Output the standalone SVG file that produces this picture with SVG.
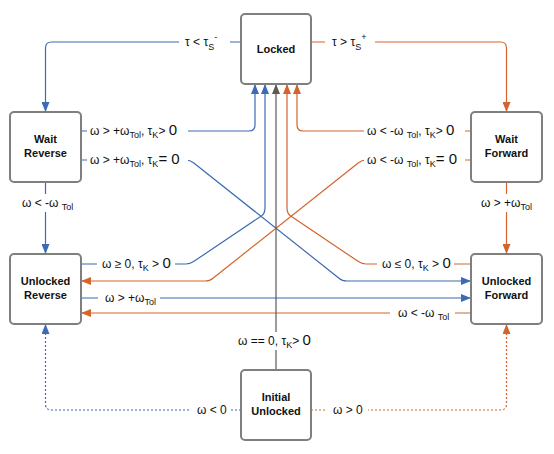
<svg xmlns="http://www.w3.org/2000/svg" width="554" height="454" viewBox="0 0 554 454">
<defs>
<style>
.node rect{fill:#fff;stroke:#7f7f7f;stroke-width:2}
.node text{font-family:"Liberation Sans",Arial,sans-serif;font-size:11px;font-weight:bold;fill:#111;text-anchor:middle}
.c{fill:none;stroke-width:1.2}
.b{stroke:#3d6ab4}
.o{stroke:#d4642c}
.g{stroke:#5a5a5a}
.dot{stroke-dasharray:2,2}
.lbl{font-family:"Liberation Sans",Arial,sans-serif;font-size:12px;fill:#111}
.bg{fill:#fff}
.s{font-size:9px}
.big{font-size:15px}
</style>
<marker id="ab" markerUnits="userSpaceOnUse" markerWidth="10" markerHeight="8" refX="10" refY="4" orient="auto"><path d="M0,0L10,4L0,8z" fill="#3d6ab4"/></marker>
<marker id="ao" markerUnits="userSpaceOnUse" markerWidth="10" markerHeight="8" refX="10" refY="4" orient="auto"><path d="M0,0L10,4L0,8z" fill="#d4642c"/></marker>
<marker id="ag" markerUnits="userSpaceOnUse" markerWidth="10" markerHeight="8" refX="10" refY="4" orient="auto"><path d="M0,0L10,4L0,8z" fill="#5a5a5a"/></marker>
</defs>
<rect width="554" height="454" fill="#fff"/>
<g id="connectors">
<path class="c b" d="M241,42H51.5Q45.5,42 45.5,48V112" marker-end="url(#ab)"/>
<path class="c o" d="M311,42H500.5Q506.5,42 506.5,48V112" marker-end="url(#ao)"/>
<path class="c b" d="M81,131H249Q255,131 255,125V84" marker-end="url(#ab)"/>
<path class="c o" d="M471,131H303Q297,131 297,125V84" marker-end="url(#ao)"/>
<path class="c b" d="M81,160H186Q190,160 193.5,162.8L339,278.2Q342,281 347,281H471" marker-end="url(#ab)"/>
<path class="c o" d="M471,160H366Q362,160 358.5,162.8L213,278.2Q210,281 205,281H81" marker-end="url(#ao)"/>
<path class="c b" d="M81,264H186Q190,264 194,261.3L262,215.5Q265,213 265,208V84" marker-end="url(#ab)"/>
<path class="c o" d="M471,264H366Q362,264 358,261.3L290,215.5Q287,213 287,208V84" marker-end="url(#ao)"/>
<path class="c b" d="M81,298H471" marker-end="url(#ab)"/>
<path class="c o" d="M471,313H81" marker-end="url(#ao)"/>
<path class="c g" d="M276,370V84" marker-end="url(#ag)"/>
<path class="c b" d="M45.5,182V254" marker-end="url(#ab)"/>
<path class="c o" d="M506.5,182V254" marker-end="url(#ao)"/>
<path class="c b dot" d="M241,410H51.5Q45.5,410 45.5,404V324" marker-end="url(#ab)"/>
<path class="c o dot" d="M311,410H500.5Q506.5,410 506.5,404V324" marker-end="url(#ao)"/>
</g>
<g id="labels">
<rect class="bg" x="179" y="34" width="51" height="16"/>
<text class="lbl" x="185" y="46">τ &lt; τ<tspan class="s" dy="4">S</tspan><tspan class="s" dy="-10">-</tspan></text>
<rect class="bg" x="325" y="34" width="50" height="16"/>
<text class="lbl" x="332" y="46">τ &gt; τ<tspan class="s" dy="4">S</tspan><tspan class="s" dy="-10">+</tspan></text>
<rect class="bg" x="87" y="122" width="101" height="18"/>
<text class="lbl" x="90" y="135">ω &gt; +ω<tspan class="s" dy="3">Tol</tspan><tspan dy="-3">, τ</tspan><tspan class="s" dy="3">K</tspan><tspan dy="-3">&gt; </tspan><tspan class="big">0</tspan></text>
<rect class="bg" x="87" y="151" width="101" height="18"/>
<text class="lbl" x="90" y="164">ω &gt; +ω<tspan class="s" dy="3">Tol</tspan><tspan dy="-3">, τ</tspan><tspan class="s" dy="3">K</tspan><tspan dy="-3" class="big">= 0</tspan></text>
<rect class="bg" x="364" y="122" width="101" height="18"/>
<text class="lbl" x="367" y="135">ω &lt; -ω <tspan class="s" dy="3">Tol</tspan><tspan dy="-3">, τ</tspan><tspan class="s" dy="3">K</tspan><tspan dy="-3">&gt; </tspan><tspan class="big">0</tspan></text>
<rect class="bg" x="364" y="151" width="101" height="18"/>
<text class="lbl" x="367" y="164">ω &lt; -ω <tspan class="s" dy="3">Tol</tspan><tspan dy="-3">, τ</tspan><tspan class="s" dy="3">K</tspan><tspan dy="-3" class="big">= 0</tspan></text>
<rect class="bg" x="97" y="255" width="78" height="18"/>
<text class="lbl" x="102" y="268">ω ≥ 0, τ<tspan class="s" dy="3">K</tspan><tspan dy="-3"> &gt; </tspan><tspan class="big">0</tspan></text>
<rect class="bg" x="377" y="255" width="77" height="18"/>
<text class="lbl" x="382" y="268">ω ≤ 0, τ<tspan class="s" dy="3">K</tspan><tspan dy="-3"> &gt; </tspan><tspan class="big">0</tspan></text>
<rect class="bg" x="98" y="290" width="62" height="16"/>
<text class="lbl" x="105" y="302">ω &gt; +ω<tspan class="s" dy="3">Tol</tspan></text>
<rect class="bg" x="390" y="305" width="65" height="16"/>
<text class="lbl" x="398" y="317">ω &lt; -ω <tspan class="s" dy="3">Tol</tspan></text>
<rect class="bg" x="20" y="194" width="52" height="18"/>
<text class="lbl" x="22" y="207">ω &lt; -ω <tspan class="s" dy="3">Tol</tspan></text>
<rect class="bg" x="479" y="194" width="54" height="18"/>
<text class="lbl" x="481" y="207">ω &gt; +ω<tspan class="s" dy="3">Tol</tspan></text>
<rect class="bg" x="234" y="332" width="82" height="18"/>
<text class="lbl" x="238" y="345">ω == 0, τ<tspan class="s" dy="3">K</tspan><tspan dy="-3">&gt; </tspan><tspan class="big">0</tspan></text>
<rect class="bg" x="191" y="402" width="39" height="16"/>
<text class="lbl" x="197" y="414">ω &lt; 0</text>
<rect class="bg" x="327" y="402" width="41" height="16"/>
<text class="lbl" x="333" y="414">ω &gt; 0</text>
</g>
<g id="locked" class="node"><rect x="241" y="14" width="70" height="70" rx="4"/><text x="276" y="53">Locked</text></g>
<g id="wait-reverse" class="node"><rect x="10" y="112" width="71" height="70" rx="4"/><text x="45.5" y="143">Wait</text><text x="45.5" y="157">Reverse</text></g>
<g id="wait-forward" class="node"><rect x="471" y="112" width="71" height="70" rx="4"/><text x="506.5" y="143">Wait</text><text x="506.5" y="157">Forward</text></g>
<g id="unlocked-reverse" class="node"><rect x="10" y="254" width="71" height="70" rx="4"/><text x="45.5" y="285">Unlocked</text><text x="45.5" y="299">Reverse</text></g>
<g id="unlocked-forward" class="node"><rect x="471" y="254" width="71" height="70" rx="4"/><text x="506.5" y="285">Unlocked</text><text x="506.5" y="299">Forward</text></g>
<g id="initial-unlocked" class="node"><rect x="241" y="370" width="70" height="70" rx="4"/><text x="276" y="401">Initial</text><text x="276" y="415">Unlocked</text></g>
</svg>
